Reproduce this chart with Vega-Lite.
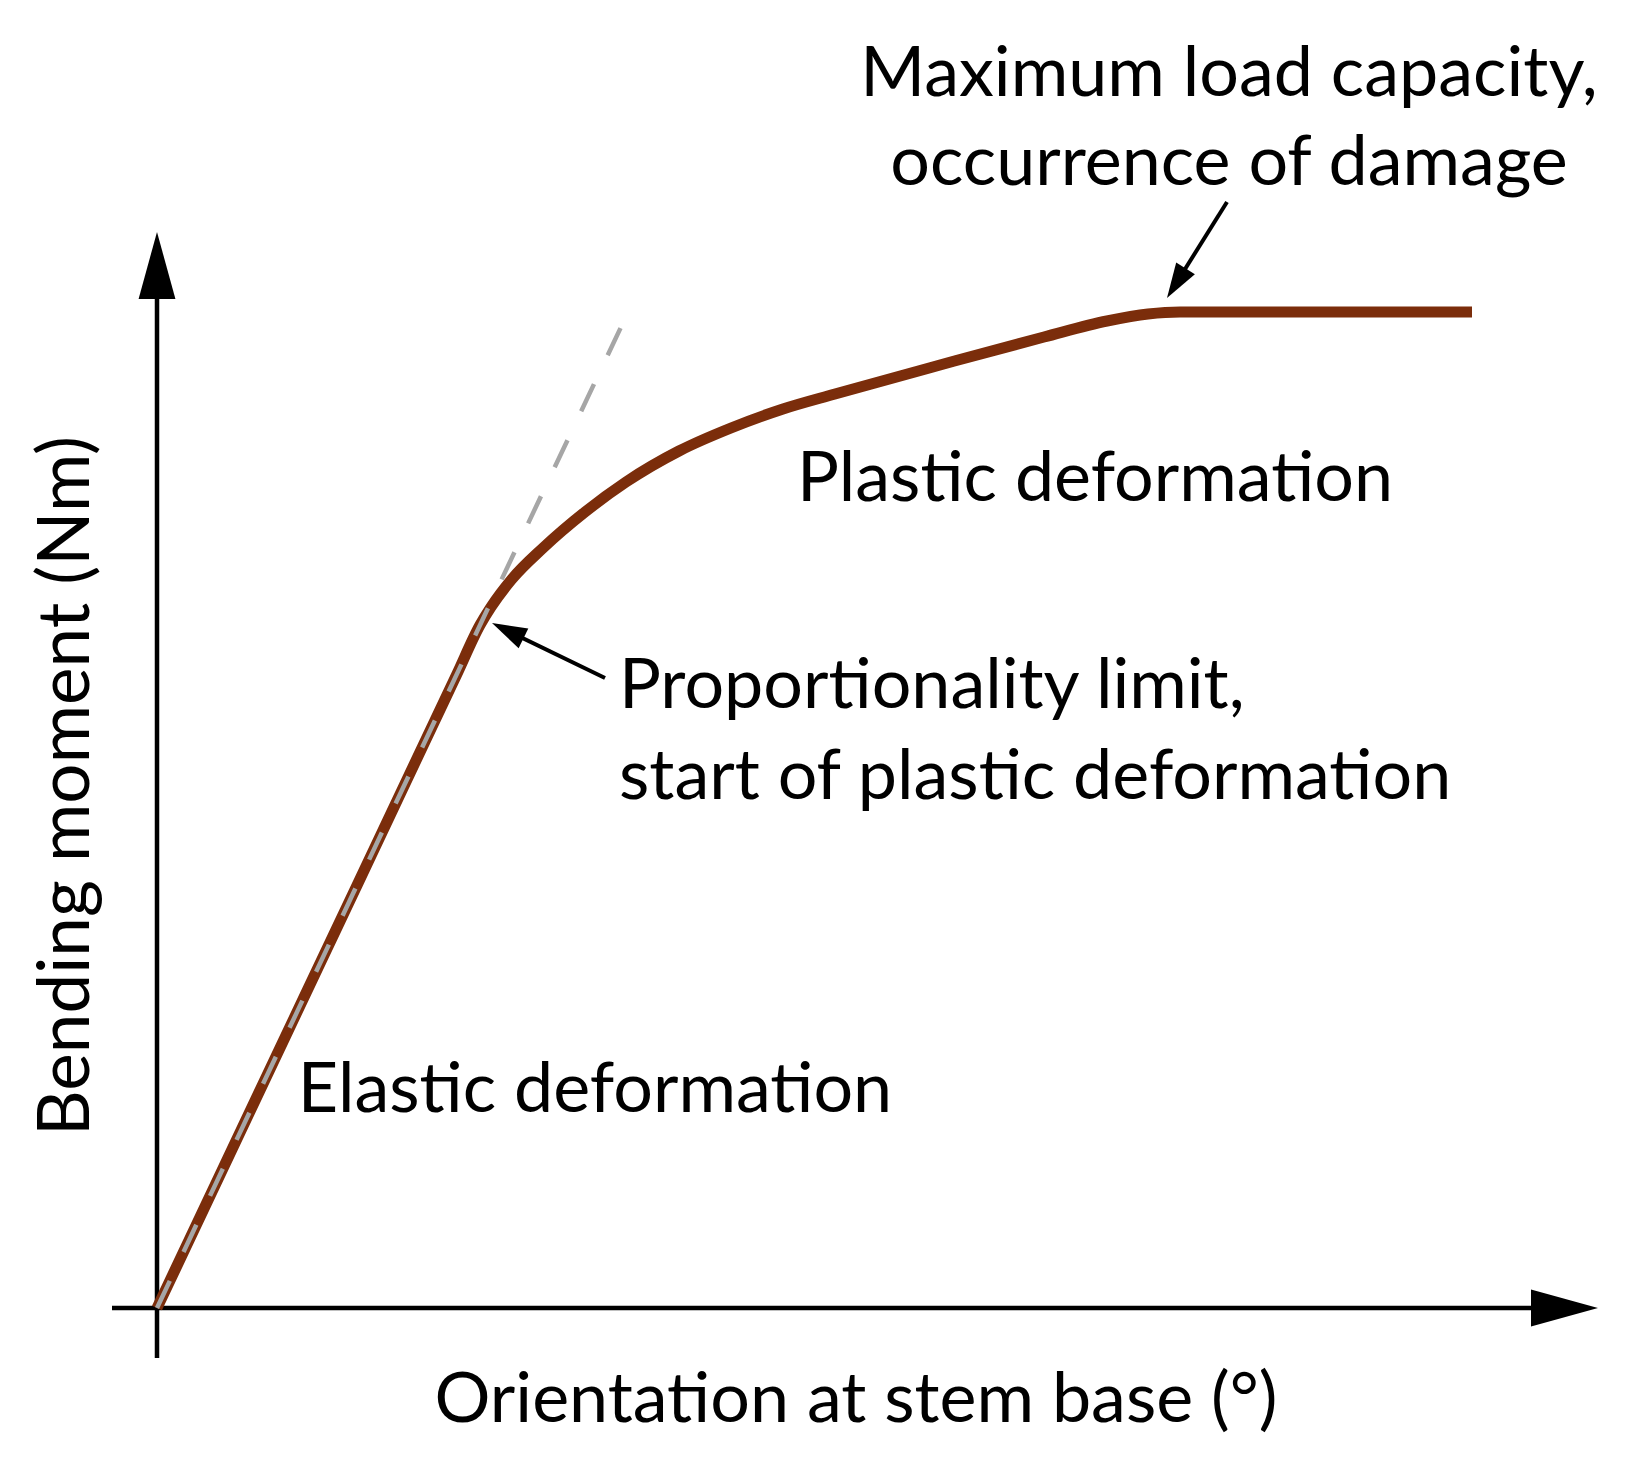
{
  "$schema": "https://vega.github.io/schema/vega-lite/v6.json",
  "width": 1637,
  "height": 1458,
  "padding": 0,
  "autosize": {"type": "none"},
  "background": "white",
  "config": {"view": {"stroke": null}, "font": "Lato"},
  "datasets": {
    "curve": [
      {"x": 0, "y": 0}, {"x": 1.5, "y": 3.171}, {"x": 3.0, "y": 6.342}, {"x": 3.23, "y": 6.83},
      {"x": 3.34, "y": 7.01}, {"x": 3.55, "y": 7.29}, {"x": 3.86, "y": 7.60}, {"x": 4.28, "y": 7.96},
      {"x": 4.69, "y": 8.26}, {"x": 5.22, "y": 8.57}, {"x": 5.74, "y": 8.80}, {"x": 6.26, "y": 8.99},
      {"x": 6.78, "y": 9.14}, {"x": 7.83, "y": 9.43}, {"x": 8.87, "y": 9.71}, {"x": 9.50, "y": 9.87},
      {"x": 9.91, "y": 9.94}, {"x": 10.23, "y": 9.96}, {"x": 13.15, "y": 9.96}
    ],
    "elastic": [{"x": 0, "y": 0}, {"x": 4.73, "y": 10.0}],
    "axes": [
      {"x": 0, "y": -0.5, "x2": 0, "y2": 10.3},
      {"x": -0.45, "y": 0, "x2": 13.9, "y2": 0}
    ],
    "pointers": [
      {"x": 4.48, "y": 6.30, "x2": 3.50, "y2": 6.775},
      {"x": 10.70, "y": 11.06, "x2": 10.19, "y2": 10.245}
    ],
    "heads": [
      {"name": "yaxis", "x": 0, "y": 10.76},
      {"name": "xaxis", "x": 14.41, "y": 0},
      {"name": "limit", "x": 3.35, "y": 6.85},
      {"name": "max", "x": 10.10, "y": 10.10}
    ],
    "labelsCentered": [
      {"x": 10.72, "y": 12.12, "text": "Maximum load capacity,"},
      {"x": 10.72, "y": 11.23, "text": "occurrence of damage"},
      {"x": 9.38, "y": 8.07, "text": "Plastic deformation"},
      {"x": 4.38, "y": 1.96, "text": "Elastic deformation"},
      {"x": 6.99, "y": -1.14, "text": "Orientation at stem base (°)"}
    ],
    "labelsLeft": [
      {"x": 4.62, "y": 6.00, "text": "Proportionality limit,"},
      {"x": 4.62, "y": 5.09, "text": "start of plastic deformation"}
    ],
    "yTitle": [
      {"x": -0.68, "y": 5.22, "text": "Bending moment (Nm)"}
    ]
  },
  "layer": [
    {
      "data": {"name": "axes"},
      "mark": {"type": "rule", "color": "black", "strokeWidth": 4.5},
      "encoding": {
        "x": {"field": "x", "type": "quantitative", "scale": {"domain": [-1.57, 14.80], "nice": false, "zero": false}, "axis": null},
        "y": {"field": "y", "type": "quantitative", "scale": {"domain": [-1.50, 13.08], "nice": false, "zero": false}, "axis": null},
        "x2": {"field": "x2"},
        "y2": {"field": "y2"}
      }
    },
    {
      "data": {"name": "curve"},
      "mark": {"type": "line", "color": "#7b2d0b", "strokeWidth": 11, "interpolate": "monotone", "strokeCap": "butt"},
      "encoding": {
        "x": {"field": "x", "type": "quantitative", "scale": {"domain": [-1.57, 14.80], "nice": false, "zero": false}, "axis": null},
        "y": {"field": "y", "type": "quantitative", "scale": {"domain": [-1.50, 13.08], "nice": false, "zero": false}, "axis": null}
      }
    },
    {
      "data": {"name": "elastic"},
      "mark": {"type": "line", "color": "#a6a6a6", "strokeWidth": 4.5, "strokeDash": [30, 32]},
      "encoding": {
        "x": {"field": "x", "type": "quantitative", "scale": {"domain": [-1.57, 14.80], "nice": false, "zero": false}, "axis": null},
        "y": {"field": "y", "type": "quantitative", "scale": {"domain": [-1.50, 13.08], "nice": false, "zero": false}, "axis": null}
      }
    },
    {
      "data": {"name": "pointers"},
      "mark": {"type": "rule", "color": "black", "strokeWidth": 4},
      "encoding": {
        "x": {"field": "x", "type": "quantitative", "scale": {"domain": [-1.57, 14.80], "nice": false, "zero": false}, "axis": null},
        "y": {"field": "y", "type": "quantitative", "scale": {"domain": [-1.50, 13.08], "nice": false, "zero": false}, "axis": null},
        "x2": {"field": "x2"},
        "y2": {"field": "y2"}
      }
    },
    {
      "data": {"name": "heads"},
      "transform": [{"filter": "datum.name === 'yaxis'"}],
      "mark": {"type": "point", "shape": "M0,0 L-0.55,2 L0.55,2 Z", "size": 4489, "filled": true, "color": "black", "opacity": 1, "angle": 0},
      "encoding": {
        "x": {"field": "x", "type": "quantitative", "scale": {"domain": [-1.57, 14.80], "nice": false, "zero": false}, "axis": null},
        "y": {"field": "y", "type": "quantitative", "scale": {"domain": [-1.50, 13.08], "nice": false, "zero": false}, "axis": null}
      }
    },
    {
      "data": {"name": "heads"},
      "transform": [{"filter": "datum.name === 'xaxis'"}],
      "mark": {"type": "point", "shape": "M0,0 L-0.55,2 L0.55,2 Z", "size": 4489, "filled": true, "color": "black", "opacity": 1, "angle": 90},
      "encoding": {
        "x": {"field": "x", "type": "quantitative", "scale": {"domain": [-1.57, 14.80], "nice": false, "zero": false}, "axis": null},
        "y": {"field": "y", "type": "quantitative", "scale": {"domain": [-1.50, 13.08], "nice": false, "zero": false}, "axis": null}
      }
    },
    {
      "data": {"name": "heads"},
      "transform": [{"filter": "datum.name === 'limit'"}],
      "mark": {"type": "point", "shape": "M0,0 L-0.63,2 L0.63,2 Z", "size": 1225, "filled": true, "color": "black", "opacity": 1, "angle": -64},
      "encoding": {
        "x": {"field": "x", "type": "quantitative", "scale": {"domain": [-1.57, 14.80], "nice": false, "zero": false}, "axis": null},
        "y": {"field": "y", "type": "quantitative", "scale": {"domain": [-1.50, 13.08], "nice": false, "zero": false}, "axis": null}
      }
    },
    {
      "data": {"name": "heads"},
      "transform": [{"filter": "datum.name === 'max'"}],
      "mark": {"type": "point", "shape": "M0,0 L-0.63,2 L0.63,2 Z", "size": 1225, "filled": true, "color": "black", "opacity": 1, "angle": 212},
      "encoding": {
        "x": {"field": "x", "type": "quantitative", "scale": {"domain": [-1.57, 14.80], "nice": false, "zero": false}, "axis": null},
        "y": {"field": "y", "type": "quantitative", "scale": {"domain": [-1.50, 13.08], "nice": false, "zero": false}, "axis": null}
      }
    },
    {
      "data": {"name": "labelsCentered"},
      "mark": {"type": "text", "font": "Lato", "fontSize": 70, "color": "black", "align": "center", "baseline": "alphabetic"},
      "encoding": {
        "x": {"field": "x", "type": "quantitative", "scale": {"domain": [-1.57, 14.80], "nice": false, "zero": false}, "axis": null},
        "y": {"field": "y", "type": "quantitative", "scale": {"domain": [-1.50, 13.08], "nice": false, "zero": false}, "axis": null},
        "text": {"field": "text"}
      }
    },
    {
      "data": {"name": "labelsLeft"},
      "mark": {"type": "text", "font": "Lato", "fontSize": 70, "color": "black", "align": "left", "baseline": "alphabetic"},
      "encoding": {
        "x": {"field": "x", "type": "quantitative", "scale": {"domain": [-1.57, 14.80], "nice": false, "zero": false}, "axis": null},
        "y": {"field": "y", "type": "quantitative", "scale": {"domain": [-1.50, 13.08], "nice": false, "zero": false}, "axis": null},
        "text": {"field": "text"}
      }
    },
    {
      "data": {"name": "yTitle"},
      "mark": {"type": "text", "font": "Lato", "fontSize": 71, "color": "black", "align": "center", "baseline": "alphabetic", "angle": -90},
      "encoding": {
        "x": {"field": "x", "type": "quantitative", "scale": {"domain": [-1.57, 14.80], "nice": false, "zero": false}, "axis": null},
        "y": {"field": "y", "type": "quantitative", "scale": {"domain": [-1.50, 13.08], "nice": false, "zero": false}, "axis": null},
        "text": {"field": "text"}
      }
    }
  ]
}
